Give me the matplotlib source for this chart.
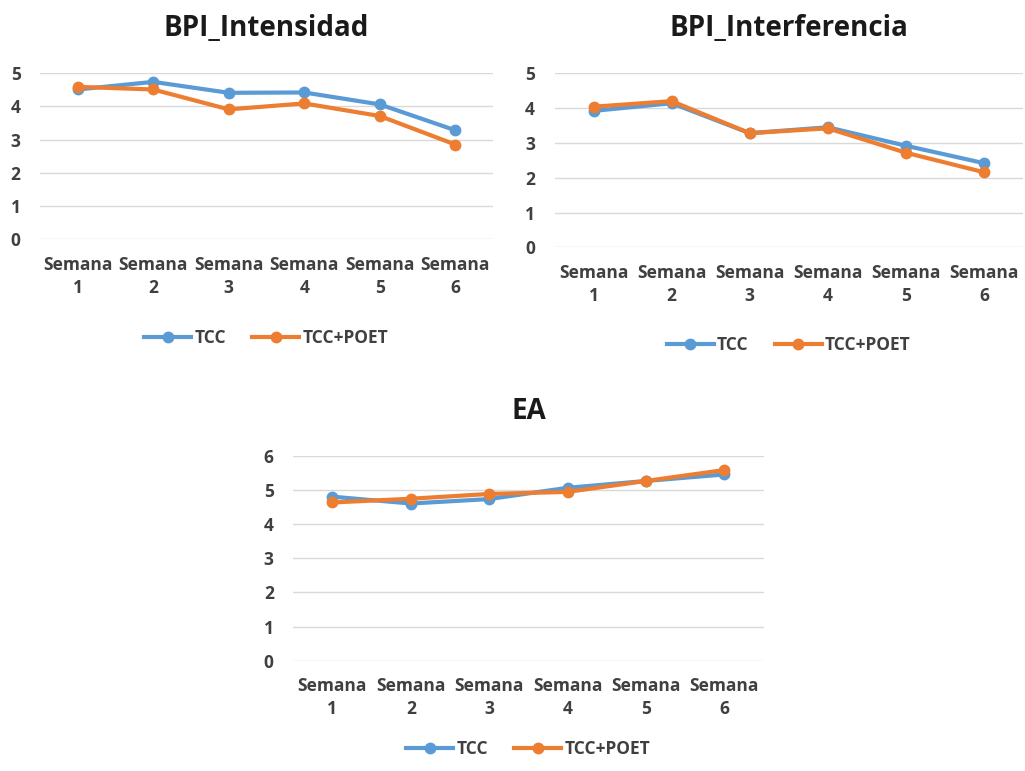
import matplotlib.pyplot as plt

plt.rcParams['font.family'] = ['Open Sans', 'DejaVu Sans']

semanas = ['Semana\n1', 'Semana\n2', 'Semana\n3', 'Semana\n4', 'Semana\n5', 'Semana\n6']

# BPI intensidad
int_tcc = [4.51, 4.74, 4.41, 4.42, 4.06, 3.28]
int_poet = [4.59, 4.51, 3.91, 4.09, 3.71, 2.85]

# BPI interferencia
inter_tcc = [3.92, 4.14, 3.28, 3.45, 2.92, 2.42]
inter_poet = [4.04, 4.20, 3.28, 3.42, 2.72, 2.16]

# EA
ea_tcc = [4.80, 4.60, 4.73, 5.06, 5.26, 5.45]
ea_poet = [4.63, 4.74, 4.88, 4.94, 5.26, 5.58]

blue = '#5B9BD5'
orange = '#ED7D31'
txt = '#404040'

fig = plt.figure(figsize=(10.25, 7.71), dpi=100)


def panel(rect, title, tcc, poet, ymax, title_y, legend_y):
    ax = fig.add_axes(rect)
    x = range(len(semanas))
    ax.plot(x, tcc, color=blue, lw=3, marker='o', ms=7.5, label='TCC', zorder=3)
    ax.plot(x, poet, color=orange, lw=3, marker='o', ms=7.5, label='TCC+POET', zorder=4)
    ax.set_xlim(-0.5, len(semanas) - 0.5)
    ax.set_ylim(0, ymax)
    ax.set_yticks(range(ymax + 1))
    ax.set_xticks(list(x))
    ax.set_xticklabels(semanas, fontsize=12.5, fontweight='bold', color=txt, linespacing=1.35)
    for lab in ax.get_yticklabels():
        lab.set_fontsize(12.5)
        lab.set_fontweight('bold')
        lab.set_color(txt)
    ax.tick_params(axis='y', length=0, pad=14)
    ax.tick_params(axis='x', length=0, pad=12)
    ax.grid(axis='y', color='#d9d9d9', lw=1)
    ax.set_axisbelow(True)
    for s in ax.spines.values():
        s.set_visible(False)
    fig.text(rect[0] + rect[2] / 2, title_y, title, ha='center', va='center',
             fontsize=20, fontweight='bold', color='#1a1a1a')
    ax.legend(loc='center', bbox_to_anchor=(0.5, legend_y), ncol=2, frameon=False,
              prop={'size': 12.5, 'weight': 'bold'}, labelcolor=txt,
              handlelength=2.7, columnspacing=1.5, handletextpad=0.2)
    return ax


panel([0.039, 0.690, 0.442, 0.215], 'BPI_Intensidad', int_tcc, int_poet, 5, 0.963, -0.60)
panel([0.541, 0.679, 0.457, 0.226], 'BPI_Interferencia', inter_tcc, inter_poet, 5, 0.963, -0.56)
panel([0.286, 0.143, 0.459, 0.266], 'EA', ea_tcc, ea_poet, 6, 0.466, -0.43)

fig.savefig('out.png', dpi=100, facecolor='white')
